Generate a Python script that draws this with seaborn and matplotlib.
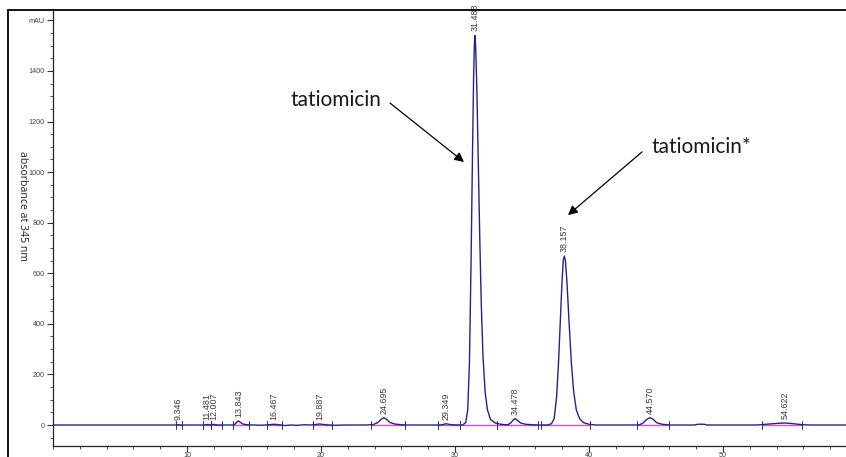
import numpy as np
import pandas as pd
import matplotlib
matplotlib.use("Agg")
import matplotlib.pyplot as plt
from matplotlib.lines import Line2D
from matplotlib.ticker import MultipleLocator, FixedLocator
import seaborn as sns

# Chromatogram trace: retention time (min) and absorbance (mAU)
time_min = [
    0.0, 9.0, 9.2, 9.346, 9.5, 11.3, 11.481, 11.7, 12.007, 12.3,
    13.4, 13.6, 13.75, 13.843, 13.95, 14.15, 14.5, 15.0, 15.5, 16.0,
    16.467, 16.9, 17.3, 17.8, 18.2, 18.7, 19.2, 19.6, 19.887, 20.2,
    20.6, 21.0, 22.0, 23.4, 23.9, 24.25, 24.48, 24.695, 24.9, 25.15,
    25.5, 26.0, 26.5, 28.9, 29.1, 29.349, 29.6, 30.0, 30.4, 30.6,
    30.8, 30.95, 31.08, 31.2, 31.3, 31.39, 31.45, 31.488, 31.54, 31.63,
    31.73, 31.84, 31.96, 32.09, 32.25, 32.42, 32.65, 33.0, 33.4, 33.8,
    33.95, 34.15, 34.35, 34.478, 34.62, 34.9, 35.25, 35.8, 36.3, 36.9,
    37.2, 37.4, 37.58, 37.72, 37.85, 37.98, 38.08, 38.157, 38.24, 38.36,
    38.52, 38.68, 38.85, 39.05, 39.3, 39.6, 40.0, 40.5, 43.7, 44.0,
    44.3, 44.570, 44.8, 45.05, 45.45, 46.0, 47.9, 48.1, 48.6, 48.8,
    52.5, 53.0, 53.7, 54.2, 54.622, 55.1, 55.6, 56.0, 56.5, 60.0,
]
absorbance_mau = [
    0, 0, 0, 1.5, 0, 0, 2, 0.5, 2.5, 0,
    0, 4, 13, 16, 12, 4, 1, 0, -1, 0.5,
    3, 1, -2, 0, -1.5, 1, 0, 2, 4, 2,
    0, -1, 0, 0, 2, 10, 22, 29, 22, 10,
    4, 1, 0, 0, 2, 5, 2, 0.5, 0, 1,
    10, 60, 250, 650, 1050, 1380, 1510, 1540, 1500, 1330,
    1060, 760, 480, 270, 130, 60, 22, 8, 3, 1,
    1, 8, 20, 25, 20, 8, 3, 1, 0, 0,
    5, 25, 110, 240, 400, 560, 650, 668, 650, 560,
    400, 250, 135, 60, 25, 9, 3, 0, 0, 6,
    22, 29, 22, 9, 3, 0, 0, 3, 3, 0,
    0, 2, 5, 7, 8, 6, 3, 1, 0, 0,
]

# Integrated peaks: labelled retention times and integration windows (min)
peak_times = [9.346, 11.481, 12.007, 13.843, 16.467, 19.887, 24.695,
              29.349, 31.488, 34.478, 38.157, 44.570, 54.622]
window_start = [9.2, 11.2, 11.8, 13.4, 16.0, 19.4, 23.7,
                28.7, 30.4, 33.1, 36.4, 43.6, 52.9]
window_end = [9.6, 11.8, 12.6, 14.6, 17.1, 20.8, 26.3,
              30.4, 33.1, 36.2, 40.1, 46.0, 55.9]

y_ticks = [0, 200, 400, 600, 800, 1000, 1200, 1400, 1600]
y_tick_labels = ["0", "200", "400", "600", "800", "1000", "1200", "1400", "mAU"]
x_ticks = [10, 20, 30, 40, 50, 60]

trace = pd.DataFrame({"time": time_min, "mAU": absorbance_mau})

sns.set_style("white")
plt.rcParams["font.family"] = ["Liberation Sans", "DejaVu Sans"]

W, H = 846, 457
fig = plt.figure(figsize=(W / 100, H / 100), dpi=100)
fig.patch.set_facecolor("white")

# axes in pixel layout: left spine x=53, plot area y=10..446
px_per_min = 13.4
ax_left, ax_top, ax_bottom = 53, 10, 446
ax_width = 60 * px_per_min
ax = fig.add_axes([ax_left / W, (H - ax_bottom) / H, ax_width / W, (ax_bottom - ax_top) / H])

line_color = "#23238a"
sns.lineplot(data=trace, x="time", y="mAU", ax=ax, color=line_color,
             linewidth=1.0, estimator=None, sort=False)

# integration baselines and start/end markers
for s, e in zip(window_start, window_end):
    ax.plot([s, e], [0, 0], color="#d94fd9", lw=1.0, zorder=1)
for s, e in zip(window_start, window_end):
    for t in (s, e):
        ax.plot([t, t], [-14, 14], color="#303060", lw=0.7, zorder=3)

# retention time labels above each apex
t_arr = np.array(time_min)
a_arr = np.array(absorbance_mau)
for pt in peak_times:
    h = float(np.interp(pt, t_arr, a_arr))
    ax.annotate(f"{pt:.3f}", xy=(pt, max(h, 0)), xytext=(0, 3),
                textcoords="offset points", rotation=90, ha="center",
                va="bottom", fontsize=6.4, color="#3a3a3a")

ax.set_xlim(0, 60)
ax.set_ylim(-83, 1641)

ax.yaxis.set_major_locator(FixedLocator(y_ticks))
ax.set_yticklabels(y_tick_labels)
ax.yaxis.set_minor_locator(MultipleLocator(50))
ax.xaxis.set_major_locator(FixedLocator(x_ticks))
ax.set_xticklabels([str(v) for v in x_ticks])
ax.xaxis.set_minor_locator(MultipleLocator(2))

ax.tick_params(axis="both", which="major", direction="out", length=4,
               width=0.8, colors="#333333", labelsize=5.2, labelcolor="#444444", pad=2)
ax.tick_params(axis="both", which="minor", direction="out", length=2,
               width=0.6, colors="#333333")
ax.tick_params(axis="x", which="major", pad=0.5)
ax.tick_params(left=True, bottom=True, which="both")

for side in ("top", "right"):
    ax.spines[side].set_visible(False)
for side in ("left", "bottom"):
    ax.spines[side].set_color("#222222")
    ax.spines[side].set_linewidth(0.9)

ax.set_xlabel("")
ax.set_ylabel("absorbance at 345 nm", rotation=270, fontsize=7.6,
              family=["Open Sans", "DejaVu Sans"], color="#222222")
ax.yaxis.set_label_coords(-31 / ax_width, (ax_bottom - 206) / (ax_bottom - ax_top))
ax.yaxis.label.set_va("center")

# compound annotations with arrows
ax.annotate("", xy=(30.67, 1040), xytext=(25.15, 1273),
            arrowprops=dict(arrowstyle="-|>", color="black", lw=0.9,
                            mutation_scale=14, shrinkA=0, shrinkB=0))
ax.annotate("", xy=(38.43, 830), xytext=(43.96, 1080),
            arrowprops=dict(arrowstyle="-|>", color="black", lw=0.9,
                            mutation_scale=14, shrinkA=0, shrinkB=0))
ax.text(21.12, 1285, "tatiomicin", fontsize=15, family=["Lato", "DejaVu Sans"],
        ha="center", va="center", color="#1a1a1a")
ax.text(48.36, 1099, "tatiomicin*", fontsize=15, family=["Lato", "DejaVu Sans"],
        ha="center", va="center", color="#1a1a1a")

# outer frame lines along the top and left edges
fig.add_artist(Line2D([8 / W, 8 / W], [0, (H - 10) / H], transform=fig.transFigure,
                      color="black", lw=1.3))
fig.add_artist(Line2D([8 / W, 1.0], [(H - 10) / H, (H - 10) / H], transform=fig.transFigure,
                      color="black", lw=1.3))

fig.savefig("out.png", dpi=100, facecolor="white")
